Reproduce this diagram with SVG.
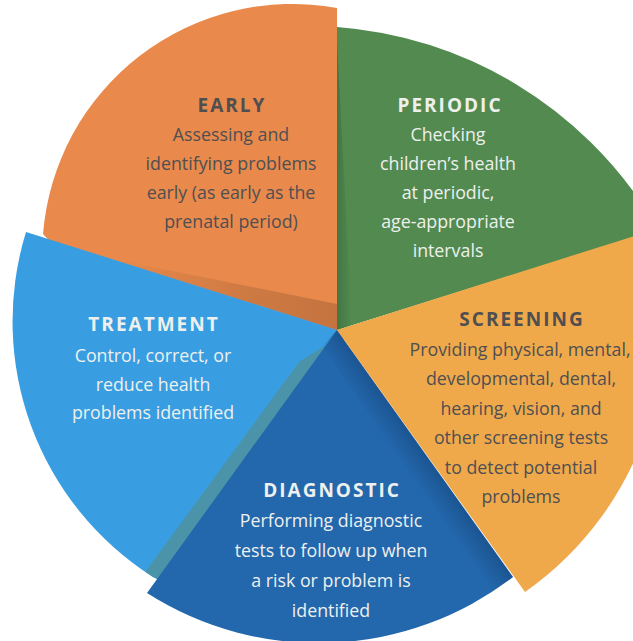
<svg xmlns="http://www.w3.org/2000/svg" width="633" height="641" viewBox="0 0 633 641">
  <style>
    text { font-family: "Open Sans", "Liberation Sans", sans-serif; text-anchor: middle; }
    .title { font-size: 19px; font-weight: 700; letter-spacing: 2px; }
    .body { font-size: 17.8px; font-weight: 400; }
    .dark { fill: #4F4F52; }
    .light { fill: #EEF0EE; }
  </style>
  <defs>
    <linearGradient id="shEarly" gradientUnits="userSpaceOnUse" x1="110" y1="258" x2="337" y2="330">
      <stop offset="0" stop-color="#6E3E22" stop-opacity="0"/>
      <stop offset="0.6" stop-color="#6E3E22" stop-opacity="0.22"/>
      <stop offset="1" stop-color="#6E3E22" stop-opacity="0.3"/>
    </linearGradient>
    <linearGradient id="shGreen" gradientUnits="userSpaceOnUse" x1="337" y1="0" x2="352" y2="0">
      <stop offset="0" stop-color="#1F4A22" stop-opacity="0.3"/>
      <stop offset="1" stop-color="#1F4A22" stop-opacity="0"/>
    </linearGradient>
    <linearGradient id="shBlue" gradientUnits="userSpaceOnUse" x1="425" y1="453.5" x2="405" y2="467.7">
      <stop offset="0" stop-color="#0B2F5A" stop-opacity="0.32"/>
      <stop offset="1" stop-color="#0B2F5A" stop-opacity="0"/>
    </linearGradient>
    <clipPath id="clipTreat">
      <path d="M 337 330 L 26 232 A 303 303 0 0 0 153 577 L 200 600 L 345 336 Z"/>
    </clipPath>
  </defs>
  <rect width="633" height="641" fill="#FFFFFF"/>

  <g id="periodic">
    <path d="M 337 330 L 337 27 A 405 405 0 0 1 650 216 L 650 232 Z" fill="#528A50"/>
    <path d="M 337 40 L 337 330 L 352 330 Z" fill="url(#shGreen)"/>
  </g>

  <g id="early">
    <path d="M 337 330 L 337 8 A 250 250 0 0 0 43 234 L 60 252 L 340 336 Z" fill="#E98A4C"/>
    <path d="M 110 258.5 L 337 330 L 337 304 Z" fill="url(#shEarly)"/>
  </g>

  <g id="treatment">
    <path d="M 337 330 L 26 232 A 303 303 0 0 0 153 577 L 200 600 L 345 336 Z" fill="#389EE1"/>
    <path d="M 328 344 L 299 362 L 132 590 L 160 610 L 337 330 Z" fill="#4B93A8" clip-path="url(#clipTreat)"/>
  </g>

  <g id="diagnostic">
    <path d="M 337 330 L 147 593 A 319 319 0 0 0 513 577 Z" fill="#2367AC"/>
    <path d="M 337 330 L 513 577 L 490 594 L 322 346 Z" fill="url(#shBlue)"/>
  </g>

  <g id="screening">
    <path d="M 337 330 L 650 231 L 650 419 A 326 326 0 0 1 525 592 Z" fill="#F0A94A"/>
  </g>

  <g id="connectors"/>

  <g id="labels-early">
    <text class="title dark" x="232" y="112">EARLY</text>
    <text class="body dark" x="231" y="141">Assessing and</text>
    <text class="body dark" x="231" y="170">identifying problems</text>
    <text class="body dark" x="231" y="199">early (as early as the</text>
    <text class="body dark" x="231" y="228">prenatal period)</text>
  </g>
  <g id="labels-periodic">
    <text class="title light" x="450" y="112">PERIODIC</text>
    <text class="body light" x="448" y="141">Checking</text>
    <text class="body light" x="448" y="170">children’s health</text>
    <text class="body light" x="448" y="199">at periodic,</text>
    <text class="body light" x="448" y="228">age-appropriate</text>
    <text class="body light" x="448" y="257">intervals</text>
  </g>
  <g id="labels-screening">
    <text class="title dark" x="522" y="326">SCREENING</text>
    <text class="body dark" x="520" y="356">Providing physical, mental,</text>
    <text class="body dark" x="521" y="385">developmental, dental,</text>
    <text class="body dark" x="521" y="415">hearing, vision, and</text>
    <text class="body dark" x="521" y="444">other screening tests</text>
    <text class="body dark" x="521" y="474">to detect potential</text>
    <text class="body dark" x="521" y="503">problems</text>
  </g>
  <g id="labels-treatment">
    <text class="title light" x="154" y="331">TREATMENT</text>
    <text class="body light" x="153" y="362">Control, correct, or</text>
    <text class="body light" x="153" y="391">reduce health</text>
    <text class="body light" x="153" y="419">problems identified</text>
  </g>
  <g id="labels-diagnostic">
    <text class="title light" x="332" y="497">DIAGNOSTIC</text>
    <text class="body light" x="331" y="527">Performing diagnostic</text>
    <text class="body light" x="331" y="557">tests to follow up when</text>
    <text class="body light" x="331" y="587">a risk or problem is</text>
    <text class="body light" x="331" y="617">identified</text>
  </g>
</svg>
